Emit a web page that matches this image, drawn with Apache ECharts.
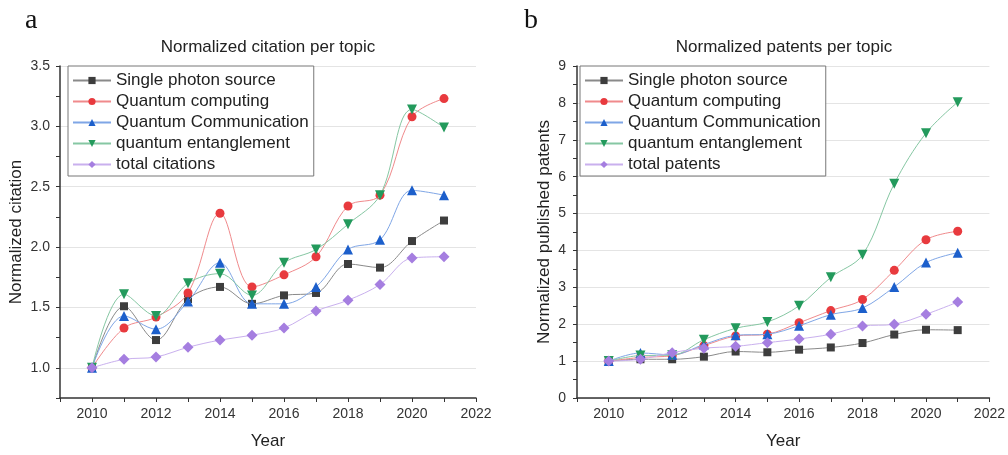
<!DOCTYPE html>
<html><head><meta charset="utf-8">
<script src="https://cdn.jsdelivr.net/npm/echarts@6/dist/echarts.min.js"></script>
<style>html,body{margin:0;padding:0;background:#fff}#c{width:1008px;height:455px}</style>
</head><body><div id="c"></div>
<script>
// ---- data ----
const years = [2010,2011,2012,2013,2014,2015,2016,2017,2018,2019,2020,2021];
const xTickLabels = [2010,2012,2014,2016,2018,2020,2022];
const citeYTickLabels = [1.0,1.5,2.0,2.5,3.0,3.5];
const patentYTickLabels = [0,1,2,3,4,5,6,7,8,9];

const citeNames = ['Single photon source','Quantum computing','Quantum Communication','quantum entanglement','total citations'];
const patentNames = ['Single photon source','Quantum computing','Quantum Communication','quantum entanglement','total patents'];

const citeSingle   = [1.00,1.51,1.23,1.57,1.67,1.53,1.60,1.62,1.86,1.83,2.05,2.22];
const citeComputing= [1.00,1.33,1.42,1.62,2.28,1.67,1.77,1.92,2.34,2.43,3.08,3.23];
const citeComm     = [1.00,1.43,1.32,1.55,1.87,1.53,1.53,1.67,1.98,2.06,2.47,2.43];
const citeEntangle = [1.00,1.61,1.43,1.70,1.78,1.60,1.87,1.98,2.19,2.43,3.14,2.99];
const citeTotal    = [1.00,1.07,1.09,1.17,1.23,1.27,1.33,1.47,1.56,1.69,1.91,1.92];

const patSingle    = [1.00,1.05,1.05,1.12,1.26,1.24,1.31,1.37,1.49,1.72,1.85,1.84];
const patComputing = [1.00,1.10,1.15,1.42,1.68,1.73,2.04,2.37,2.67,3.46,4.29,4.52];
const patComm      = [1.00,1.22,1.17,1.45,1.70,1.73,1.96,2.26,2.44,3.01,3.67,3.94];
const patEntangle  = [1.00,1.15,1.16,1.58,1.89,2.06,2.50,3.27,3.88,5.81,7.18,8.02];
const patTotal     = [1.00,1.05,1.23,1.35,1.40,1.50,1.60,1.73,1.95,2.00,2.27,2.60];

// ---- styles ----
const FONT = 'Liberation Sans, Arial, sans-serif';
const styles = [
  {color:'#3d3d3d', line:'#8a8a8a', symbol:'rect', size:8, rot:0},
  {color:'#e83a3e', line:'#f08a8c', symbol:'circle', size:9, rot:0},
  {color:'#1c5fcb', line:'#7fa6e6', symbol:'triangle', size:10, rot:0},
  {color:'#239a5c', line:'#86c7a3', symbol:'triangle', size:10, rot:180},
  {color:'#a57ee0', line:'#c9b0ee', symbol:'diamond', size:11, rot:0}
];

function mkSeries(names, arrays, gi) {
  return arrays.map((arr, i) => ({
    type:'line', name:names[i], xAxisIndex:gi, yAxisIndex:gi,
    data: years.map((y, k) => [y, arr[k]]),
    smooth:0.35, symbol:styles[i].symbol, symbolSize:styles[i].size, symbolRotate:styles[i].rot,
    itemStyle:{color:styles[i].color},
    lineStyle:{color:styles[i].line, width:1},
    z: 2 + i
  }));
}

function xAxis(gi) {
  return {
    type:'value', gridIndex:gi, min:2009, max:2022, interval:1,
    name:'Year', nameLocation:'middle', nameGap:35,
    nameTextStyle:{fontFamily:FONT, fontSize:17, color:'#222'},
    axisLine:{show:true, lineStyle:{color:'#333', width:1.5}},
    axisTick:{show:true, length:4, lineStyle:{color:'#333'}},
    axisLabel:{customValues:xTickLabels, formatter:v => String(v), fontFamily:FONT, fontSize:14, color:'#333', margin:9},
    splitLine:{show:false}
  };
}

const option = {
  animation:false,
  backgroundColor:'#fff',
  grid:[
    {left:60, top:66, width:416, bottom:54},
    {left:577, top:66, width:415, bottom:54}
  ],
  xAxis:[xAxis(0), xAxis(1)],
  yAxis:[
    {type:'value', gridIndex:0, min:0.75, max:3.5, interval:0.25,
     name:'Normalized citation', nameLocation:'middle', nameGap:35,
     nameTextStyle:{fontFamily:FONT, fontSize:17, color:'#222'},
     axisLine:{show:true, lineStyle:{color:'#333', width:1.5}},
     axisTick:{show:true, length:4, lineStyle:{color:'#333'}},
     axisLabel:{customValues:citeYTickLabels, formatter:v => v.toFixed(1), fontFamily:FONT, fontSize:14, color:'#333', margin:10},
     splitLine:{show:true, lineStyle:{color:['transparent','#e4e4e4'], width:1}}
    },
    {type:'value', gridIndex:1, min:0, max:9, interval:0.5,
     name:'Normalized published patents', nameLocation:'middle', nameGap:24,
     nameTextStyle:{fontFamily:FONT, fontSize:17, color:'#222'},
     axisLine:{show:true, lineStyle:{color:'#333', width:1.5}},
     axisTick:{show:true, length:4, lineStyle:{color:'#333'}},
     axisLabel:{customValues:patentYTickLabels, formatter:v => String(v), fontFamily:FONT, fontSize:14, color:'#333', margin:11},
     splitLine:{show:true, lineStyle:{color:['#e4e4e4','transparent'], width:1}}
    }
  ],
  legend:[
    {data:citeNames, orient:'vertical', left:68, top:66, z:20,
     backgroundColor:'#fff', borderColor:'#777', borderWidth:1, padding:[6,5,3,4],
     itemWidth:38, itemHeight:9, itemGap:4, selectedMode:false,
     textStyle:{fontFamily:FONT, fontSize:17, color:'#222'}},
    {data:patentNames, orient:'vertical', left:580, top:66, z:20,
     backgroundColor:'#fff', borderColor:'#777', borderWidth:1, padding:[6,5,3,4],
     itemWidth:38, itemHeight:9, itemGap:4, selectedMode:false,
     textStyle:{fontFamily:FONT, fontSize:17, color:'#222'}}
  ],
  graphic:[
    {type:'text', left:25, top:7, style:{text:'a', font:'28px "Liberation Serif", "Times New Roman", serif', fill:'#111'}},
    {type:'text', left:524, top:7, style:{text:'b', font:'28px "Liberation Serif", "Times New Roman", serif', fill:'#111'}},
    {type:'text', x:268, y:47, style:{text:'Normalized citation per topic', font:'17px ' + FONT, fill:'#222', align:'center', verticalAlign:'middle'}},
    {type:'text', x:784, y:47, style:{text:'Normalized patents per topic', font:'17px ' + FONT, fill:'#222', align:'center', verticalAlign:'middle'}}
  ],
  series:[
    ...mkSeries(citeNames, [citeSingle, citeComputing, citeComm, citeEntangle, citeTotal], 0),
    ...mkSeries(patentNames, [patSingle, patComputing, patComm, patEntangle, patTotal], 1)
  ]
};
const chart = echarts.init(document.getElementById('c'), null, {renderer:'canvas'});
chart.setOption(option);
</script>
</body></html>
